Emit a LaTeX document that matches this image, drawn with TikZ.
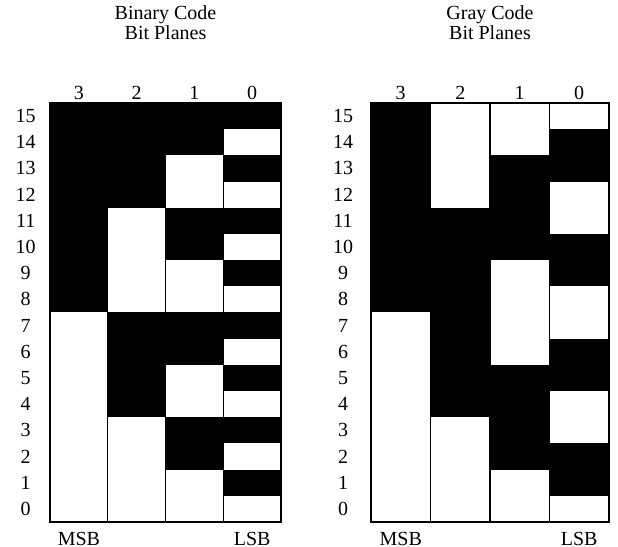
\documentclass[tikz,border=0pt]{standalone}
\usepackage{fontspec}
\setmainfont{Liberation Serif}

\begin{document}
\begin{tikzpicture}[x=0.5pt, y=0.5pt, frame/.style={line width=0.6pt}]
    \useasboundingbox (0,0) rectangle (618,547);
    % Binary code bit planes
    \begin{scope}[xshift=25pt, yshift=12.5pt, x=28.875pt, y=13.094pt]
        \fill (0,8) rectangle (1,16);
        \fill (1,4) rectangle (2,8);
        \fill (1,12) rectangle (2,16);
        \foreach \r in {2,6,10,14} \fill (2,\r) rectangle (3,\r+2);
        \foreach \r in {1,3,...,15} \fill (3,\r) rectangle (4,\r+1);
        \draw[frame] (0,0) rectangle (4,16);
        \draw[frame] (1,0) -- (1,16) (2,0) -- (2,16) (3,0) -- (3,16);
        \foreach \b [count=\c from 0] in {3,2,1,0}
            \node (bbit\b) at (\c+0.5,16.4) {\b};
        \foreach \r in {0,...,15}
            \node (brow\r) at (-0.42,\r+0.5) {\r};
        \node (bmsb) at (0.5,-0.65) {MSB};
        \node (blsb) at (3.5,-0.65) {LSB};
        \node (btitle) at (2,19.36) {Binary Code};
        \node (bsub) at (2,18.67) {Bit Planes};
    \end{scope}
    % Gray code bit planes
    \begin{scope}[xshift=185.5pt, yshift=12.5pt, x=29.75pt, y=13.094pt]
        \fill (0,8) rectangle (1,16);
        \fill (1,4) rectangle (2,12);
        \fill (2,2) rectangle (3,6);
        \fill (2,10) rectangle (3,14);
        \foreach \r in {1,5,9,13} \fill (3,\r) rectangle (4,\r+2);
        \draw[frame] (0,0) rectangle (4,16);
        \draw[frame] (1,0) -- (1,16) (2,0) -- (2,16) (3,0) -- (3,16);
        \foreach \b [count=\c from 0] in {3,2,1,0}
            \node (gbit\b) at (\c+0.5,16.4) {\b};
        \foreach \r in {0,...,15}
            \node (grow\r) at (-0.47,\r+0.5) {\r};
        \node (gmsb) at (0.5,-0.65) {MSB};
        \node (glsb) at (3.5,-0.65) {LSB};
        \node (gtitle) at (2,19.36) {Gray Code};
        \node (gsub) at (2,18.67) {Bit Planes};
    \end{scope}
\end{tikzpicture}
\end{document}
